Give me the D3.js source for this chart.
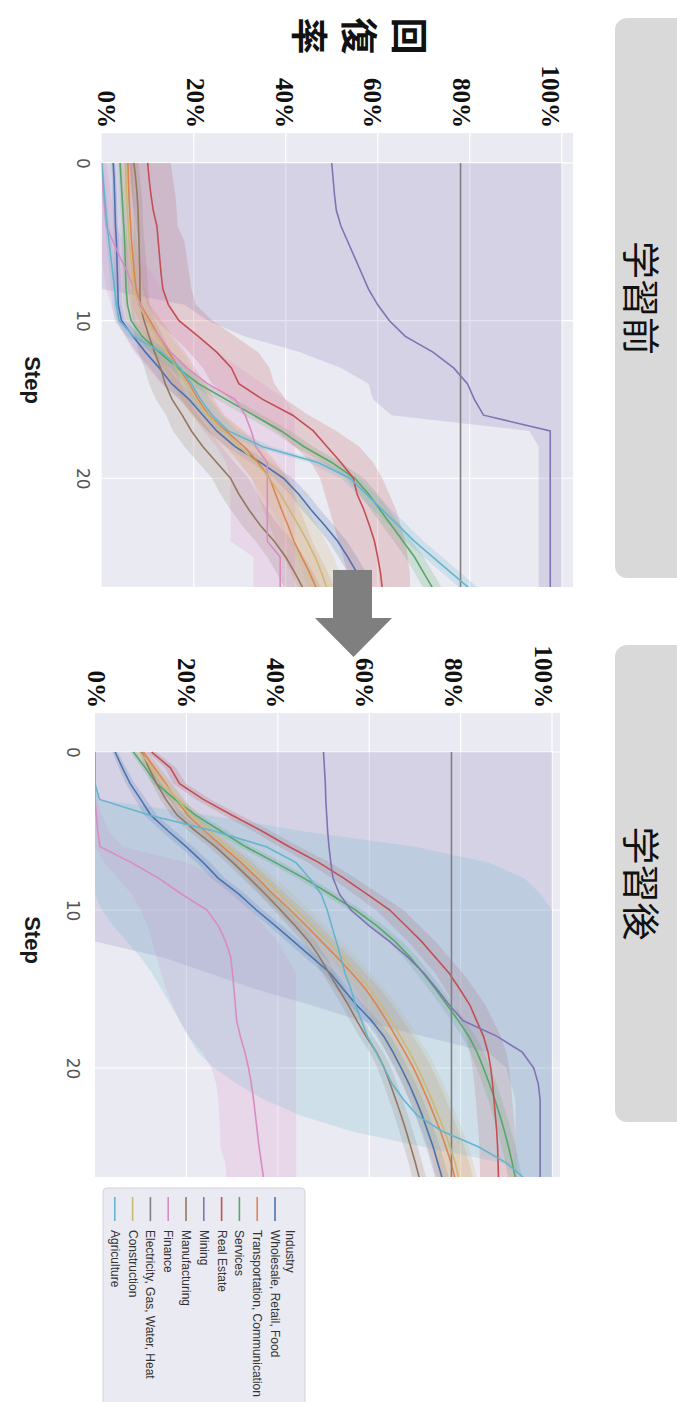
<!DOCTYPE html>
<html>
  <head>
    <meta charset="utf-8" />
    <style>
      body,
      html {
        margin: 0;
        padding: 0;
        background: #fff;
        overflow: hidden;
      }
      svg {
        display: block;
      }
    </style>
  </head>
  <body>
    <script src="https://cdn.jsdelivr.net/npm/d3@7"></script>
    <script>
      // ---- data (recovery rate in %, per step) ----
      const steps = [0, 1, 2, 3, 4, 5, 6, 7, 8, 9, 10, 11, 12, 13, 14, 15, 16, 17, 18, 19, 20, 21, 22, 23, 24, 25, 26, 27];

      const industries = [
        "Wholesale, Retail, Food",
        "Transportation, Communication",
        "Services",
        "Real Estate",
        "Mining",
        "Manufacturing",
        "Finance",
        "Electricity, Gas, Water, Heat",
        "Construction",
        "Agriculture",
      ];
      const palette = ["#4C72B0", "#DD8452", "#55A868", "#C44E52", "#8172B3", "#937860", "#DA8BC3", "#808080", "#CCB974", "#64B5CD"];

      const yTicks = [0, 20, 40, 60, 80, 100];
      const xTicks = [0, 10, 20];

      // before learning (学習前)
      const bWholesale = [2.5, 2.7, 2.8, 2.9, 3, 3.2, 3.3, 3.4, 3.5, 3.6, 4.3, 6.8, 9.5, 12.5, 15.2, 19, 22, 25, 29, 34.5, 39.5, 42.8, 45.5, 48.5, 51.3, 53.5, 55.5, 56];
      const bTransport = [5.7, 5.8, 5.9, 6.1, 6.3, 6.5, 6.8, 7.1, 7.5, 8.5, 10.5, 12.5, 14.6, 16.8, 19, 21, 23.2, 27, 31, 34, 36.5, 37.8, 39.1, 40.5, 41.8, 43.5, 45.2, 46.7];
      const bServices = [4, 4.2, 4.4, 4.6, 4.8, 5, 5.1, 5.2, 5.3, 5.6, 6.4, 8.8, 12.5, 16.5, 21, 27, 33, 39, 44, 50, 55, 58, 60.5, 63, 65.5, 68, 70, 72];
      const bRealEstate = [10, 10.3, 10.7, 11.2, 12, 12.3, 12.6, 12.9, 13.3, 14.5, 16.8, 21, 25, 28.2, 29.8, 35, 41.5, 46, 49, 52, 54.7, 55.5, 57, 58.2, 59.3, 60, 60.6, 61];
      const bRealEstateLo = [6, 6.2, 6.5, 7, 7.5, 8, 8.3, 8.6, 9, 10, 12, 15.5, 19, 22, 24, 28, 33, 38, 42, 45.5, 47.5, 48.5, 49.5, 50.5, 51.5, 52.5, 53.5, 54];
      const bRealEstateHi = [15, 15.5, 16, 16.3, 16.5, 18, 18.5, 19, 19.5, 20.5, 24, 29, 34, 36.5, 37.5, 40, 45, 51, 56, 59, 61, 62.5, 64, 65, 66, 66.5, 67, 67];
      const bMining = [50, 50.3, 50.6, 51, 52, 53.5, 55, 56.5, 58, 60, 62.5, 66, 72, 76.5, 79.5, 81, 83, 97.5, 97.5, 97.5, 97.5, 97.5, 97.5, 97.5, 97.5, 97.5, 97.5, 97.5];
      const bMiningLo = [0, 0, 0, 0, 0, 0, 0, 0, 0, 18, 23, 31, 43, 52, 58, 59, 63, 93, 95, 95, 95, 95, 95, 95, 95, 95, 95, 95];
      const bMiningHi = [100, 100, 100, 100, 100, 100, 100, 100, 100, 100, 100, 100, 100, 100, 100, 100, 100, 100, 100, 100, 100, 100, 100, 100, 100, 100, 100, 100];
      const bManufacturing = [7, 7.4, 7.7, 7.9, 8, 8.1, 8.2, 8.3, 8.3, 8.4, 9.2, 10.3, 11.5, 12.8, 13.8, 15.3, 17.5, 19.5, 22, 25, 28, 29.8, 32, 34.5, 37.5, 40, 42, 43.8];
      const bFinance = [0, 0.2, 0.4, 0.7, 1, 2.5, 4, 5.7, 7, 8.5, 9.8, 12.5, 15, 18.5, 23, 29, 31.2, 32.5, 33.5, 36, 36, 36, 36, 36, 36, 38.8, 38.8, 38.8];
      const bFinanceLo = [0, 0, 0, 0, 0, 0, 0, 0.5, 1, 2, 3, 5, 7, 10, 13, 17, 20, 22, 25, 27, 28, 28, 28, 28, 28, 33, 33, 33];
      const bFinanceHi = [1, 1.5, 2, 2.5, 3, 5, 8, 11, 13, 15, 17, 21, 25, 30, 35, 40, 42, 42, 42, 42, 42, 42, 42, 42, 42, 42, 42, 42];
      const bElectricity = [78, 78, 78, 78, 78, 78, 78, 78, 78, 78, 78, 78, 78, 78, 78, 78, 78, 78, 78, 78, 78, 78, 78, 78, 78, 78, 78, 78];
      const bConstruction = [5.2, 5.3, 5.4, 5.6, 5.8, 6, 6.3, 6.6, 7, 8, 10, 12, 14, 16.2, 18.3, 20.5, 23, 26.5, 30, 33.5, 36.5, 38.8, 40.8, 42.8, 44.7, 46.4, 47.8, 49];
      const bAgriculture = [0, 0.3, 0.6, 0.9, 1.2, 1.6, 2, 2.4, 2.8, 3.2, 3.8, 7, 13, 17, 19.5, 21.5, 24, 27.5, 35, 47, 54, 57.5, 61, 64.5, 68, 72, 76, 80];
      // half widths of the narrower confidence bands
      const bSpreadThin = [0.4, 0.4, 0.5, 0.5, 0.5, 0.6, 0.6, 0.7, 0.8, 0.9, 1, 1.5, 2, 2, 2, 2, 2, 2, 2, 2, 2, 2, 2, 2, 2, 2, 2, 2];
      const bSpreadMid = [1, 1, 1, 1, 1, 1.2, 1.4, 1.6, 1.8, 2, 2.5, 3, 3.5, 3.5, 3.5, 3.5, 3.5, 4, 4, 4, 4, 4, 4, 4, 4, 4, 4, 4];

      // after learning (学習後)
      const aWholesale = [4.4, 6, 7.7, 10, 12.2, 16, 20, 23.7, 27, 31.5, 35.3, 39.5, 43.5, 47.5, 51.5, 54.3, 57.2, 60.5, 63.2, 65.2, 67, 68.7, 70.2, 71.6, 72.8, 74, 75, 76];
      const aTransport = [10.6, 13, 15.5, 17.8, 20.3, 24, 28, 32, 35.6, 39, 42.7, 46.2, 49.6, 53, 56.2, 59.2, 61.6, 63.8, 65.8, 67.8, 69.7, 71.3, 72.8, 74.2, 75.6, 76.8, 77.9, 78.8];
      const aServices = [8.4, 11, 13.5, 17.5, 22, 27.5, 33, 39.5, 45.8, 51.5, 57, 61.7, 65.7, 69, 71.8, 74.5, 77, 79.5, 81.8, 83.6, 85, 86.3, 87.5, 88.6, 89.6, 90.5, 91.3, 92];
      const aRealEstate = [12.4, 16.5, 18.5, 23.7, 30, 36.5, 42.5, 49, 54.5, 59.5, 64.5, 68, 71.5, 74.5, 77.5, 79.8, 82, 83.5, 85, 86, 86.6, 87, 87.3, 87.6, 87.9, 88.1, 88.2, 88.3];
      const aMining = [50, 50.2, 50.4, 50.5, 50.7, 50.9, 51.2, 51.6, 52.1, 53.5, 56, 60, 64.5, 68.5, 72, 74.8, 77.5, 80.5, 88, 93.5, 96, 97, 97.4, 97.4, 97.4, 97.4, 97.4, 97.4];
      const aMiningLo = [0, 0, 0, 0, 0, 0, 0, 0, 0, 0, 0, 0, 0, 15, 25, 35, 47, 58, 72, 86, 90, 91, 92, 92, 92, 92, 92, 92];
      const aMiningHi = [100, 100, 100, 100, 100, 100, 100, 100, 100, 100, 100, 100, 100, 100, 100, 100, 100, 100, 100, 100, 100, 100, 100, 100, 100, 100, 100, 100];
      const aManufacturing = [10.2, 11.8, 13.5, 15.5, 18, 22, 26.4, 30.2, 33.8, 37.3, 40.6, 43.8, 46.8, 49.2, 51.2, 53.3, 55.4, 57.3, 59.3, 61.6, 63.3, 64.6, 65.8, 67, 68.1, 69.1, 70.1, 71];
      const aFinance = [0, 0, 0, 0, 0.3, 0.6, 1.1, 8, 14, 19, 24.5, 27, 28.6, 29.7, 30.1, 30.4, 30.7, 31, 31.8, 32.8, 33.6, 34.2, 34.7, 35.1, 35.5, 35.9, 36.4, 36.9];
      const aFinanceLo = [0, 0, 0, 0, 0, 0, 0, 2, 5, 8, 10, 11.5, 12.5, 13.5, 14.5, 15.5, 17, 18.5, 20.5, 23.5, 25.5, 26.5, 27, 27.2, 27.4, 27.4, 28.5, 28.8];
      const aFinanceHi = [0, 0, 0, 0.5, 1.5, 3, 6, 20, 27, 31, 34, 37, 40, 42, 44, 44, 44, 44, 44, 44, 44, 44, 44, 44, 44, 44, 44, 44];
      const aElectricity = [78, 78, 78, 78, 78, 78, 78, 78, 78, 78, 78, 78, 78, 78, 78, 78, 78, 78, 78, 78, 78, 78, 78, 78, 78, 78, 78, 78];
      const aConstruction = [9.8, 12.5, 15.2, 18, 21, 25, 29, 33, 37, 40.5, 44, 47.5, 51, 54.2, 57.3, 60.2, 62.6, 64.8, 66.8, 68.8, 70.6, 72.2, 73.7, 75.1, 76.5, 77.7, 78.8, 79.6];
      const aAgriculture = [0, 0, 0, 1, 12, 26, 37.5, 44, 47, 49.5, 50.8, 51.8, 52.8, 53.8, 54.7, 56, 57, 58.3, 59.6, 61.5, 63.3, 65, 67.5, 70.5, 76, 84, 90, 94];
      const aAgricultureLo = [0, 0, 0, 0, 0, 0, 0, 0, 0, 0, 1.5, 4, 7, 10, 12.5, 14.5, 16.5, 18.5, 20.5, 22.5, 26, 31, 37, 45, 56, 72, 89, 94];
      const aAgricultureHi = [0, 0, 0, 1, 25, 45, 70, 86, 94, 97.5, 100, 100, 100, 100, 100, 100, 100, 100, 100, 100, 100, 100, 100, 100, 100, 100, 100, 100];
      const aSpreadThin = [0.6, 0.8, 1, 1.2, 1.4, 1.5, 1.5, 1.5, 1.5, 1.5, 1.5, 1.5, 1.5, 1.5, 1.5, 1.5, 1.5, 1.5, 1.5, 1.5, 1.5, 1.5, 1.5, 1.5, 1.5, 1.5, 1.5, 1.5];
      const aSpreadMid = [1, 1.2, 1.4, 1.6, 1.8, 2, 2.2, 2.4, 2.6, 2.8, 3, 3, 3, 3, 3, 3.2, 3.4, 3.6, 3.8, 4, 4, 4, 4, 4, 4, 4, 4, 4];

      // band from a half-width array, or explicit lower/upper arrays
      function spread(mean, s) {
        return mean.map((v, i) => [Math.max(0, v - s[i]), Math.min(100, v + s[i])]);
      }
      function band(lo, hi) {
        return lo.map((v, i) => [v, hi[i]]);
      }

      const beforeSeries = [
        { mean: bWholesale, band: spread(bWholesale, bSpreadThin) },
        { mean: bTransport, band: spread(bTransport, bSpreadMid) },
        { mean: bServices, band: spread(bServices, bSpreadThin) },
        { mean: bRealEstate, band: band(bRealEstateLo, bRealEstateHi) },
        { mean: bMining, band: band(bMiningLo, bMiningHi) },
        { mean: bManufacturing, band: spread(bManufacturing, bSpreadMid) },
        { mean: bFinance, band: band(bFinanceLo, bFinanceHi) },
        { mean: bElectricity, band: null },
        { mean: bConstruction, band: spread(bConstruction, bSpreadMid) },
        { mean: bAgriculture, band: spread(bAgriculture, bSpreadThin) },
      ];
      const afterSeries = [
        { mean: aWholesale, band: spread(aWholesale, aSpreadThin) },
        { mean: aTransport, band: spread(aTransport, aSpreadMid) },
        { mean: aServices, band: spread(aServices, aSpreadThin) },
        { mean: aRealEstate, band: spread(aRealEstate, aSpreadMid) },
        { mean: aMining, band: band(aMiningLo, aMiningHi) },
        { mean: aManufacturing, band: spread(aManufacturing, aSpreadThin) },
        { mean: aFinance, band: band(aFinanceLo, aFinanceHi) },
        { mean: aElectricity, band: null },
        { mean: aConstruction, band: spread(aConstruction, aSpreadMid) },
        { mean: aAgriculture, band: band(aAgricultureLo, aAgricultureHi) },
      ];

      // ---- drawing ----
      const width = 677;
      const height = 1402;
      const cjk = "'Noto Sans CJK JP', sans-serif";

      const svg = d3.select("body").append("svg").attr("width", width).attr("height", height);

      // the slide is turned a quarter clockwise: draw it upright (1402 x 677) and rotate
      const root = svg.append("g").attr("transform", `translate(${width},0) rotate(90)`);

      function drawPanel(p, series) {
        const x = d3.scaleLinear().domain(p.xDomain).range([p.left, p.right]);
        const y = d3.scaleLinear().domain([0, p.yMax]).range([p.bottom, p.top]);
        const g = root.append("g");

        g.append("clipPath")
          .attr("id", "clip-" + p.id)
          .append("rect")
          .attr("x", p.left)
          .attr("y", p.top)
          .attr("width", p.right - p.left)
          .attr("height", p.bottom - p.top);

        g.append("rect")
          .attr("x", p.left)
          .attr("y", p.top)
          .attr("width", p.right - p.left)
          .attr("height", p.bottom - p.top)
          .attr("fill", "#EAEAF2");

        g.selectAll(".hgrid")
          .data(yTicks.slice(1))
          .enter()
          .append("line")
          .attr("x1", p.left)
          .attr("x2", p.right)
          .attr("y1", (d) => y(d))
          .attr("y2", (d) => y(d))
          .attr("stroke", "#fff")
          .attr("stroke-width", 1.2);
        g.selectAll(".vgrid")
          .data(xTicks)
          .enter()
          .append("line")
          .attr("x1", (d) => x(d))
          .attr("x2", (d) => x(d))
          .attr("y1", p.top)
          .attr("y2", p.bottom)
          .attr("stroke", "#fff")
          .attr("stroke-width", 1.2);

        const plot = g.append("g").attr("clip-path", `url(#clip-${p.id})`);

        const area = d3
          .area()
          .x((d, i) => x(steps[i]))
          .y0((d) => y(d[0]))
          .y1((d) => y(d[1]));
        const line = d3
          .line()
          .x((d, i) => x(steps[i]))
          .y((d) => y(d));

        series.forEach((s, i) => {
          if (!s.band) return;
          plot.append("path").attr("d", area(s.band)).attr("fill", palette[i]).attr("fill-opacity", 0.2);
        });
        series.forEach((s, i) => {
          plot
            .append("path")
            .attr("d", line(s.mean))
            .attr("fill", "none")
            .attr("stroke", palette[i])
            .attr("stroke-width", 1.6);
        });

        // step ticks
        const xAxis = g
          .append("g")
          .attr("transform", `translate(0,${p.bottom})`)
          .call(d3.axisBottom(x).tickValues(xTicks).tickSize(0).tickPadding(p.xPad));
        xAxis.select(".domain").remove();
        xAxis.selectAll("text").attr("font-family", "'DejaVu Sans', sans-serif").attr("font-size", 17).attr("fill", "#555");

        // percent labels (placed as separate text boxes on the slide)
        const yLab = d3.scaleLinear().domain([0, 100]).range(p.labRange);
        const yAxis = g
          .append("g")
          .attr("transform", `translate(${p.labRight},0)`)
          .call(
            d3
              .axisLeft(yLab)
              .tickValues(yTicks)
              .tickFormat((d) => d + "%")
              .tickSize(0)
              .tickPadding(0)
          );
        yAxis.select(".domain").remove();
        yAxis
          .selectAll("text")
          .attr("font-family", "'Liberation Serif', serif")
          .attr("font-weight", "bold")
          .attr("font-size", 25)
          .attr("fill", "#111");

        g.append("text")
          .attr("x", p.stepU)
          .attr("y", 645)
          .attr("text-anchor", "middle")
          .attr("dominant-baseline", "central")
          .attr("font-family", "'Liberation Sans', sans-serif")
          .attr("font-weight", "bold")
          .attr("font-size", 22)
          .attr("fill", "#1a1a1a")
          .text("Step");
      }

      drawPanel(
        {
          id: "before",
          left: 133,
          right: 587,
          top: 104,
          bottom: 575.3,
          xDomain: [-1.9, 26.9],
          yMax: 102.45,
          xPad: 13,
          labRight: 128,
          labRange: [570.3, 127],
          stepU: 380,
        },
        beforeSeries
      );
      drawPanel(
        {
          id: "after",
          left: 713,
          right: 1177,
          top: 117,
          bottom: 582,
          xDomain: [-2.47, 26.9],
          yMax: 101.75,
          xPad: 16,
          labRight: 708,
          labRange: [580.3, 133.8],
          stepU: 940,
        },
        afterSeries
      );

      // y axis title, stacked vertically
      root
        .selectAll(".ytitle")
        .data(Array.from("回復率"))
        .enter()
        .append("text")
        .attr("x", 36)
        .attr("y", (d, i) => 266 + i * 50)
        .attr("text-anchor", "middle")
        .attr("dominant-baseline", "central")
        .attr("font-family", cjk)
        .attr("font-weight", "bold")
        .attr("font-size", 37)
        .attr("fill", "#111")
        .text((d) => d);

      // section headers
      const headers = [
        { text: "学習前", u0: 18, u1: 578 },
        { text: "学習後", u0: 645, u1: 1122 },
      ];
      headers.forEach((h) => {
        root
          .append("rect")
          .attr("x", h.u0)
          .attr("y", -20)
          .attr("width", h.u1 - h.u0)
          .attr("height", 82)
          .attr("rx", 12)
          .attr("fill", "#D9D9D9");
        root
          .append("text")
          .attr("x", (h.u0 + h.u1) / 2)
          .attr("y", 34)
          .attr("text-anchor", "middle")
          .attr("dominant-baseline", "central")
          .attr("font-family", cjk)
          .attr("font-weight", 400)
          .attr("font-size", 38)
          .attr("fill", "#111")
          .text(h.text);
      });

      // arrow between the two charts
      root
        .append("polygon")
        .attr("points", "570,305 618,305 618,285 657,323.5 618,362 618,344 570,344")
        .attr("fill", "#7F7F7F");

      // legend
      const legend = root.append("g");
      legend
        .append("rect")
        .attr("x", 1188)
        .attr("y", 372)
        .attr("width", 240)
        .attr("height", 202)
        .attr("rx", 4)
        .attr("fill", "#EAEAF2")
        .attr("stroke", "#D4D4DC");
      legend
        .append("text")
        .attr("x", 1230)
        .attr("y", 387)
        .attr("dominant-baseline", "central")
        .attr("font-family", "'Liberation Sans', sans-serif")
        .attr("font-size", 12)
        .attr("fill", "#333")
        .text("Industry");
      const items = legend
        .selectAll(".item")
        .data(industries)
        .enter()
        .append("g")
        .attr("transform", (d, i) => `translate(0,${402 + i * 17.8})`);
      items
        .append("line")
        .attr("x1", 1197)
        .attr("x2", 1221)
        .attr("stroke", (d, i) => palette[i])
        .attr("stroke-width", 1.6);
      items
        .append("text")
        .attr("x", 1230)
        .attr("dominant-baseline", "central")
        .attr("font-family", "'Liberation Sans', sans-serif")
        .attr("font-size", 12)
        .attr("fill", "#333")
        .text((d) => d);
    </script>
  </body>
</html>
